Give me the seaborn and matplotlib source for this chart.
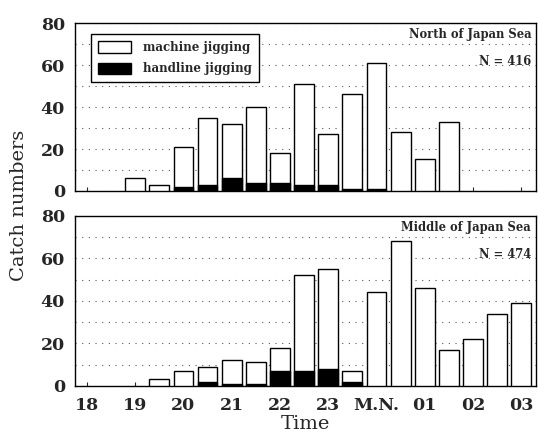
import numpy as np
import pandas as pd
import matplotlib
matplotlib.use('Agg')
import matplotlib.pyplot as plt
import seaborn as sns
from matplotlib.patches import Patch

# half-hour time slots (18:00 ... 03:00, midnight = 24)
slots = [18, 18.5, 19, 19.5, 20, 20.5, 21, 21.5, 22, 22.5, 23, 23.5,
         24, 24.5, 25, 25.5, 26, 26.5, 27]
tick_pos = [18, 19, 20, 21, 22, 23, 24, 25, 26, 27]
tick_labels = ['18', '19', '20', '21', '22', '23', 'M.N.', '01', '02', '03']

# North of Japan Sea : total catch and handline part
north_total = [0, 0, 6, 3, 21, 35, 32, 40, 18, 51, 27, 46, 61, 28, 15, 33, 0, 0, 0]
north_hand = [0, 0, 0, 0, 2, 3, 6, 4, 4, 3, 3, 1, 1, 0, 0, 0, 0, 0, 0]

# Middle of Japan Sea
middle_total = [0, 0, 0, 3, 7, 9, 12, 11, 18, 52, 55, 7, 44, 68, 46, 17, 22, 34, 39]
middle_hand = [0, 0, 0, 0, 0, 2, 1, 1, 7, 7, 8, 2, 0, 0, 0, 0, 0, 0, 0]

panels = [
    ('North of Japan Sea', 'N = 416', north_total, north_hand),
    ('Middle of Japan Sea', 'N = 474', middle_total, middle_hand),
]

sns.set_style('ticks')
plt.rcParams['font.family'] = ['DejaVu Serif']

fig = plt.figure(figsize=(5.38, 4.36), dpi=100)
ax_top = fig.add_axes([0.139, 0.562, 0.857, 0.385])
ax_bot = fig.add_axes([0.139, 0.115, 0.857, 0.390])

for ax, (title, n_txt, total, hand) in zip([ax_top, ax_bot], panels):
    df = pd.DataFrame({'slot': slots, 'total': total, 'hand': hand})
    d1 = df[df['total'] > 0]
    d2 = df[df['hand'] > 0]
    sns.barplot(data=d1, x='slot', y='total', native_scale=True, width=0.82,
                color='white', edgecolor='black', linewidth=1.0, ax=ax, zorder=3)
    sns.barplot(data=d2, x='slot', y='hand', native_scale=True, width=0.82,
                color='black', edgecolor='black', linewidth=1.0, ax=ax, zorder=4)
    ax.set_xlim(17.75, 27.3)
    ax.set_ylim(0, 80)
    ax.set_yticks([0, 20, 40, 60, 80])
    ax.set_yticks([10, 30, 50, 70], minor=True)
    ax.grid(axis='y', which='both', linestyle=(0, (1, 5)), color='#555555', linewidth=0.8)
    ax.set_xticks(tick_pos)
    ax.set_xlabel('')
    ax.set_ylabel('')
    ax.tick_params(axis='y', which='both', length=0, labelsize=12.5, pad=7)
    ax.tick_params(axis='x', direction='in', length=3, labelsize=12.5, pad=8)
    for s in ax.spines.values():
        s.set_visible(True)
        s.set_color('black')
        s.set_linewidth(1.0)
    ax.text(0.99, 0.93, title, transform=ax.transAxes, ha='right', va='center',
            fontsize=8.3, fontweight='bold')
    ax.text(0.99, 0.77, n_txt, transform=ax.transAxes, ha='right', va='center',
            fontsize=8.3, fontweight='bold')
    for lab in ax.get_yticklabels():
        lab.set_fontweight('bold')

ax_top.set_xticklabels([])
ax_bot.set_xticklabels(tick_labels)
for lab in ax_bot.get_xticklabels():
    lab.set_fontweight('bold')

handles = [Patch(facecolor='white', edgecolor='black', label='machine jigging'),
           Patch(facecolor='black', edgecolor='black', label='handline jigging')]
leg = ax_top.legend(handles=handles, loc='upper left', bbox_to_anchor=(0.022, 0.97),
                    fancybox=False, edgecolor='black', framealpha=1,
                    prop={'size': 8.5, 'weight': 'bold'}, handlelength=2.8,
                    handleheight=1.1, borderpad=0.6, labelspacing=0.7, handletextpad=1.0)
leg.get_frame().set_linewidth(1.0)

fig.text(0.035, 0.53, 'Catch numbers', rotation=90, ha='center', va='center', fontsize=14)
fig.text(0.567, 0.028, 'Time', ha='center', va='center', fontsize=14)

fig.savefig('out.png', dpi=100)
